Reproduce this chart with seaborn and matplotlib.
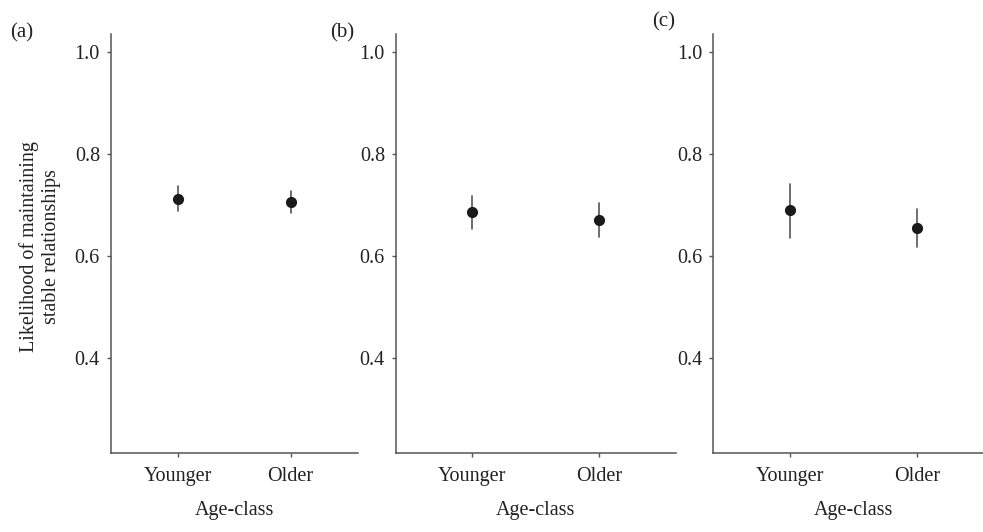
import pandas as pd
import seaborn as sns
import matplotlib.pyplot as plt

# values: estimate, lower and upper ends of the interval
panels = ["(a)", "(b)", "(c)"]
age_classes = ["Younger", "Older"]
est_a = [0.712, 0.706]
low_a = [0.688, 0.683]
high_a = [0.736, 0.727]
est_b = [0.686, 0.671]
low_b = [0.653, 0.637]
high_b = [0.717, 0.703]
est_c = [0.689, 0.654]
low_c = [0.634, 0.617]
high_c = [0.740, 0.692]
yticks = [0.4, 0.6, 0.8, 1.0]

sns.set_theme(style="ticks")
plt.rcParams["font.family"] = ["Liberation Serif", "DejaVu Serif"]

fig = plt.figure(figsize=(9.83, 5.32), dpi=100)
W, H = 983, 532
boxes = [(111, 358), (396, 675.7), (713.3, 993.7)]
top, bottom = 34, 453
label_pos = [(10, 33), (330, 33), (652, 22)]

data = [(est_a, low_a, high_a), (est_b, low_b, high_b), (est_c, low_c, high_c)]
grey = "#555555"

for i, (est, low, high) in enumerate(data):
    rows = []
    for k, cls in enumerate(age_classes):
        for v in (low[k], est[k], high[k]):
            rows.append({"Age-class": cls, "value": v})
    df = pd.DataFrame(rows)

    x0, x1 = boxes[i]
    ax = fig.add_axes([x0 / W, 1 - bottom / H, (x1 - x0) / W, (bottom - top) / H])
    sns.pointplot(data=df, x="Age-class", y="value", order=age_classes,
                  estimator="median", errorbar=lambda v: (v.min(), v.max()),
                  linestyle="none", color="#1a1a1a", markersize=6,
                  err_kws={"color": grey, "linewidth": 1.2, "zorder": 1},
                  ax=ax)
    ax.set_xlim(-0.6, 1.6)
    ax.set_ylim(0.213, 1.035)
    ax.set_yticks(yticks)
    ax.set_yticklabels([f"{t:.1f}" for t in yticks])
    sns.despine(ax=ax)
    for s in ["left", "bottom"]:
        ax.spines[s].set_color(grey)
        ax.spines[s].set_linewidth(1.1)
    ax.tick_params(axis="both", colors=grey, length=3, width=1, labelsize=14.5,
                   labelcolor="#222222", pad=5)
    ax.tick_params(axis="x", pad=7)
    ax.set_xlabel("Age-class", fontsize=14.5, color="#222222")
    ax.xaxis.set_label_coords(0.5, -0.115)
    ax.set_ylabel("")
    fig.text(label_pos[i][0] / W, 1 - label_pos[i][1] / H, panels[i],
             fontsize=15, color="#222222", ha="left", va="center")

fig.text(40 / W, 1 - 247 / H, "Likelihood of maintaining\nstable relationships",
         rotation=90, ha="center", va="center", fontsize=14.5, color="#222222",
         multialignment="center", linespacing=1.2)

fig.savefig("out.png", dpi=100)
